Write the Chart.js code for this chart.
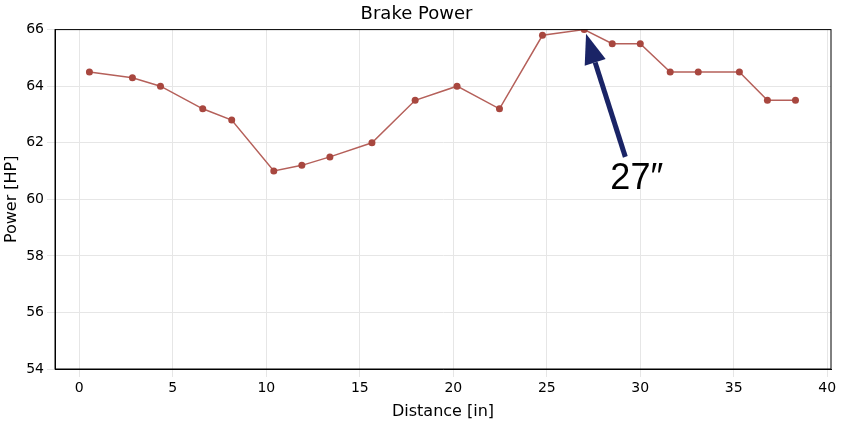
<!DOCTYPE html>
<html><head><script src="https://cdn.jsdelivr.net/npm/chart.js@4"></script>
<style>body{margin:0;background:#fff}#w{width:849px;height:425px}</style></head>
<body><div id="w"><canvas id="c"></canvas></div>
<script>
const distance=[0.54,2.84,4.34,6.6,8.15,10.4,11.9,13.4,15.65,17.96,20.2,22.47,24.77,27.0,28.5,30.0,31.6,33.1,35.3,36.8,38.3];
const power=[64.5,64.3,64.0,63.2,62.8,61.0,61.2,61.5,62.0,63.5,64.0,63.2,65.8,66.0,65.5,65.5,64.5,64.5,64.5,63.5,63.5];
const annotationText='27″';
const arrowTail=[29.2,61.5], arrowHead=[27.1,65.85], textPos=[28.4,60.7];
const arrowPlugin={id:'arrow',afterDatasetsDraw(ch){
 const x=ch.scales.x,y=ch.scales.y,ctx=ch.ctx;
 const x1=x.getPixelForValue(arrowTail[0]),y1=y.getPixelForValue(arrowTail[1]);
 const x2=x.getPixelForValue(arrowHead[0]),y2=y.getPixelForValue(arrowHead[1]);
 const a=Math.atan2(y2-y1,x2-x1),L=30,W=11;
 const bx=x2-L*Math.cos(a),by=y2-L*Math.sin(a);
 ctx.save();ctx.strokeStyle='#1a2466';ctx.fillStyle='#1a2466';ctx.lineWidth=5;
 ctx.beginPath();ctx.moveTo(x1,y1);ctx.lineTo(bx,by);ctx.stroke();
 ctx.beginPath();ctx.moveTo(x2,y2);ctx.lineTo(bx+W*Math.sin(a),by-W*Math.cos(a));ctx.lineTo(bx-W*Math.sin(a),by+W*Math.cos(a));ctx.closePath();ctx.fill();
 ctx.fillStyle='#000';ctx.font='36px "Liberation Sans"';ctx.textBaseline='middle';
 ctx.fillText(annotationText,x.getPixelForValue(textPos[0]),y.getPixelForValue(textPos[1]));
 ctx.restore();}};
new Chart(document.getElementById('c'),{type:'line',
data:{datasets:[{data:distance.map((d,i)=>({x:d,y:power[i]})),borderColor:'#b5605a',backgroundColor:'#a8473f',borderWidth:1.5,pointRadius:3.5,pointBorderWidth:0,tension:0}]},
options:{responsive:true,maintainAspectRatio:false,animation:false,
layout:{padding:{left:2,right:18,top:2,bottom:4}},
plugins:{legend:{display:false},tooltip:{enabled:false},title:{display:true,text:'Brake Power',color:'#000',font:{size:18,family:'DejaVu Sans',weight:'normal'},padding:{top:2,bottom:4}}},
scales:{
x:{type:'linear',min:-1.3,max:40.2,border:{display:true,color:'#000'},grid:{color:'#e6e6e6'},ticks:{stepSize:5,color:'#000',font:{size:14,family:'DejaVu Sans'}},afterBuildTicks(s){s.ticks=[0,5,10,15,20,25,30,35,40].map(v=>({value:v}))},
 title:{display:true,text:'Distance [in]',color:'#000',font:{size:16,family:'DejaVu Sans'},padding:{top:2,bottom:0}}},
y:{min:54,max:66,border:{color:'#000'},grid:{color:'#e6e6e6'},ticks:{stepSize:2,color:'#000',font:{size:14,family:'DejaVu Sans'}},
 title:{display:true,text:'Power [HP]',color:'#000',font:{size:16,family:'DejaVu Sans'},padding:{top:0,bottom:2}}}}},
plugins:[arrowPlugin,{id:'box',afterDraw(ch){const a=ch.chartArea,c=ch.ctx;c.save();c.strokeStyle='#000';c.lineWidth=1;c.strokeRect(a.left,a.top,a.right-a.left,a.bottom-a.top);c.restore();}}]});
</script></body></html>
